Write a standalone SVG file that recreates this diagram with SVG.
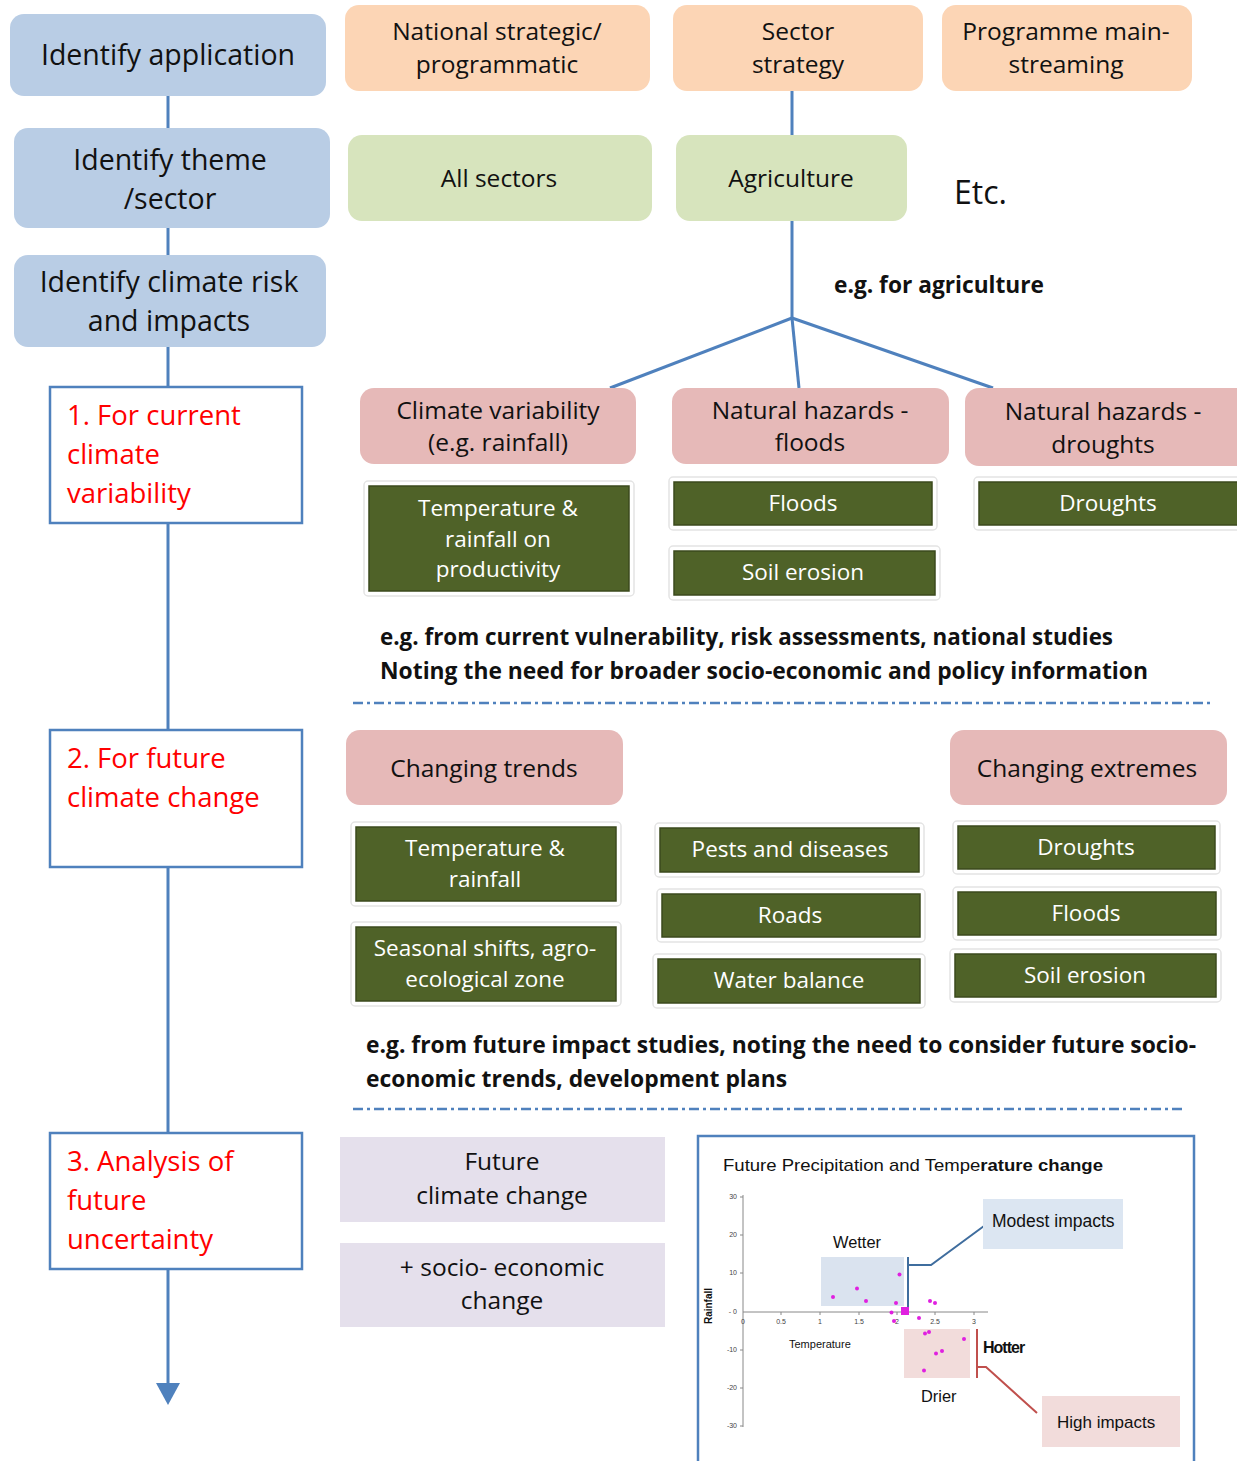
<svg xmlns="http://www.w3.org/2000/svg" width="1237" height="1461" viewBox="0 0 1237 1461">
<style>
text{font-family:"Open Sans","Noto Sans","DejaVu Sans",sans-serif;fill:#111}
.c{text-anchor:middle}
.blue{fill:#b9cde5}
.orange{fill:#fcd5b5}
.lgreen{fill:#d7e4bd}
.pink{fill:#e6b9b8}
.lav{fill:#e5e0ec}
.dg{fill:#4f6228;stroke:#3b4a1c;stroke-width:1.5}
.sh{fill:#fff;stroke:#e4e4e4;stroke-width:1.5}
.wt{fill:#fff;font-size:22.5px}
.t26{font-size:28.5px}
.t22{font-size:24.5px}
.red{fill:#f00;font-size:27.5px}
.step{fill:#fff;stroke:#4f81bd;stroke-width:2.5}
.bold{font-weight:bold;font-size:23px}
.conn{stroke:#4f81bd;stroke-width:3;fill:none}
.dash{stroke:#4f81bd;stroke-width:2.5;fill:none;stroke-dasharray:10 4 3 4}
.ch{font-family:"Liberation Sans",Arial,sans-serif}
.tick{font-family:"Liberation Sans",Arial,sans-serif;font-size:7px;fill:#444}
.dot{fill:#e020e0}
</style>

<g id="connectors">
<line class="conn" x1="168" y1="96" x2="168" y2="128"/>
<line class="conn" x1="168" y1="228" x2="168" y2="255"/>
<line class="conn" x1="168" y1="347" x2="168" y2="387"/>
<line class="conn" x1="168" y1="523" x2="168" y2="730"/>
<line class="conn" x1="168" y1="867" x2="168" y2="1133"/>
<line class="conn" x1="168" y1="1269" x2="168" y2="1385"/>
<polygon points="156,1383 180,1383 168,1405" fill="#4f81bd"/>
<line class="conn" x1="792" y1="91" x2="792" y2="135"/>
<line class="conn" x1="792" y1="221" x2="792" y2="318"/>
<line class="conn" x1="792" y1="318" x2="610" y2="388"/>
<line class="conn" x1="792" y1="318" x2="799" y2="388"/>
<line class="conn" x1="792" y1="318" x2="993" y2="388"/>
</g>

<g id="n-identify-application">
<rect class="blue" x="10" y="14" width="316" height="82" rx="14"/>
<text class="c t26" x="168" y="65">Identify application</text>
</g>
<g id="n-identify-theme">
<rect class="blue" x="14" y="128" width="316" height="100" rx="14"/>
<text class="c t26" x="170" y="170">Identify theme</text>
<text class="c t26" x="170" y="209">/sector</text>
</g>
<g id="n-identify-risk">
<rect class="blue" x="14" y="255" width="312" height="92" rx="14"/>
<text class="c t26" x="169" y="292">Identify climate  risk</text>
<text class="c t26" x="169" y="331">and impacts</text>
</g>

<g id="n-step1">
<rect class="step" x="50" y="387" width="252" height="136"/>
<text class="red" x="67" y="425">1. For current</text>
<text class="red" x="67" y="464">climate</text>
<text class="red" x="67" y="503">variability</text>
</g>
<g id="n-step2">
<rect class="step" x="50" y="730" width="252" height="137"/>
<text class="red" x="67" y="768">2. For future</text>
<text class="red" x="67" y="807">climate change</text>
</g>
<g id="n-step3">
<rect class="step" x="50" y="1133" width="252" height="136"/>
<text class="red" x="67" y="1171">3. Analysis of</text>
<text class="red" x="67" y="1210">future</text>
<text class="red" x="67" y="1249">uncertainty</text>
</g>

<g id="n-national">
<rect class="orange" x="345" y="5" width="305" height="86" rx="14"/>
<text class="c t22" x="497" y="40">National strategic/</text>
<text class="c t22" x="497" y="73">programmatic</text>
</g>
<g id="n-sector">
<rect class="orange" x="673" y="5" width="250" height="86" rx="14"/>
<text class="c t22" x="798" y="40">Sector</text>
<text class="c t22" x="798" y="73">strategy</text>
</g>
<g id="n-programme">
<rect class="orange" x="942" y="5" width="250" height="86" rx="14"/>
<text class="c t22" x="1066" y="40">Programme main-</text>
<text class="c t22" x="1066" y="73">streaming</text>
</g>

<g id="n-all-sectors">
<rect class="lgreen" x="348" y="135" width="304" height="86" rx="14"/>
<text class="c t22" x="499" y="187">All sectors</text>
</g>
<g id="n-agriculture">
<rect class="lgreen" x="676" y="135" width="231" height="86" rx="14"/>
<text class="c t22" x="791" y="187">Agriculture</text>
</g>
<g id="n-etc">
<text x="954" y="204" font-size="32">Etc.</text>
</g>
<g id="n-eg-agri">
<text class="bold" x="834" y="293" textLength="210" lengthAdjust="spacingAndGlyphs">e.g. for agriculture</text>
</g>

<g id="n-climate-var">
<rect class="pink" x="360" y="388" width="276" height="76" rx="14"/>
<text class="c t22" x="498" y="419">Climate variability</text>
<text class="c t22" x="498" y="451">(e.g. rainfall)</text>
</g>
<g id="n-nh-floods">
<rect class="pink" x="672" y="388" width="277" height="76" rx="14"/>
<text class="c t22" x="810" y="419">Natural hazards -</text>
<text class="c t22" x="810" y="451">floods</text>
</g>
<g id="n-nh-droughts">
<rect class="pink" x="965" y="388" width="290" height="78" rx="14"/>
<text class="c t22" x="1103" y="420">Natural hazards -</text>
<text class="c t22" x="1103" y="453">droughts</text>
</g>

<g id="n-temp-prod">
<rect class="sh" x="364" y="481" width="270" height="115" rx="4"/>
<rect class="dg" x="369" y="486" width="260" height="105"/>
<text class="c wt" x="498" y="516">Temperature &amp;</text>
<text class="c wt" x="498" y="547">rainfall on</text>
<text class="c wt" x="498" y="577">productivity</text>
</g>
<g id="n-floods1">
<rect class="sh" x="669" y="477" width="268" height="53" rx="4"/>
<rect class="dg" x="674" y="482" width="258" height="43"/>
<text class="c wt" x="803" y="511">Floods</text>
</g>
<g id="n-soil1">
<rect class="sh" x="669" y="546" width="271" height="54" rx="4"/>
<rect class="dg" x="674" y="551" width="261" height="44"/>
<text class="c wt" x="803" y="580">Soil erosion</text>
</g>
<g id="n-droughts1">
<rect class="sh" x="974" y="477" width="270" height="53" rx="4"/>
<rect class="dg" x="979" y="482" width="262" height="43"/>
<text class="c wt" x="1108" y="511">Droughts</text>
</g>

<g id="n-eg-current">
<text class="bold" x="380" y="645" textLength="733" lengthAdjust="spacingAndGlyphs">e.g. from current vulnerability, risk assessments, national studies</text>
<text class="bold" x="380" y="679" textLength="768" lengthAdjust="spacingAndGlyphs">Noting the need for broader socio-economic and policy information</text>
</g>
<line class="dash" x1="353" y1="703" x2="1210" y2="703"/>

<g id="n-changing-trends">
<rect class="pink" x="346" y="730" width="277" height="75" rx="14"/>
<text class="c t22" x="484" y="777">Changing trends</text>
</g>
<g id="n-changing-extremes">
<rect class="pink" x="950" y="730" width="277" height="75" rx="14"/>
<text class="c t22" x="1087" y="777">Changing extremes</text>
</g>

<g id="n-temp-rain">
<rect class="sh" x="351" y="822" width="270" height="84" rx="4"/>
<rect class="dg" x="356" y="827" width="260" height="74"/>
<text class="c wt" x="485" y="856">Temperature &amp;</text>
<text class="c wt" x="485" y="887">rainfall</text>
</g>
<g id="n-seasonal">
<rect class="sh" x="351" y="922" width="270" height="84" rx="4"/>
<rect class="dg" x="356" y="927" width="260" height="74"/>
<text class="c wt" x="485" y="956">Seasonal shifts, agro-</text>
<text class="c wt" x="485" y="987">ecological  zone</text>
</g>
<g id="n-pests">
<rect class="sh" x="655" y="823" width="269" height="54" rx="4"/>
<rect class="dg" x="660" y="828" width="259" height="44"/>
<text class="c wt" x="790" y="857">Pests and diseases</text>
</g>
<g id="n-roads">
<rect class="sh" x="657" y="889" width="268" height="53" rx="4"/>
<rect class="dg" x="662" y="894" width="258" height="43"/>
<text class="c wt" x="790" y="923">Roads</text>
</g>
<g id="n-water">
<rect class="sh" x="653" y="954" width="272" height="54" rx="4"/>
<rect class="dg" x="658" y="959" width="262" height="44"/>
<text class="c wt" x="789" y="988">Water balance</text>
</g>
<g id="n-droughts2">
<rect class="sh" x="953" y="821" width="267" height="53" rx="4"/>
<rect class="dg" x="958" y="826" width="257" height="43"/>
<text class="c wt" x="1086" y="855">Droughts</text>
</g>
<g id="n-floods2">
<rect class="sh" x="953" y="887" width="268" height="53" rx="4"/>
<rect class="dg" x="958" y="892" width="258" height="43"/>
<text class="c wt" x="1086" y="921">Floods</text>
</g>
<g id="n-soil2">
<rect class="sh" x="950" y="949" width="271" height="53" rx="4"/>
<rect class="dg" x="955" y="954" width="261" height="43"/>
<text class="c wt" x="1085" y="983">Soil erosion</text>
</g>

<g id="n-eg-future">
<text class="bold" x="366" y="1053" textLength="830" lengthAdjust="spacingAndGlyphs">e.g. from future impact studies, noting the need to consider future socio-</text>
<text class="bold" x="366" y="1087" textLength="421" lengthAdjust="spacingAndGlyphs">economic trends, development plans</text>
</g>
<line class="dash" x1="353" y1="1109" x2="1185" y2="1109"/>

<g id="n-future-cc">
<rect class="lav" x="340" y="1137" width="325" height="85"/>
<text class="c" font-size="24.5" x="502" y="1170">Future</text>
<text class="c" font-size="24.5" x="502" y="1204">climate change</text>
</g>
<g id="n-socio">
<rect class="lav" x="340" y="1243" width="325" height="84"/>
<text class="c" font-size="24.5" x="502" y="1276">+ socio- economic</text>
<text class="c" font-size="24.5" x="502" y="1309">change</text>
</g>

<g id="n-chart">
<rect x="698" y="1136" width="496" height="340" fill="#fff" stroke="#4f81bd" stroke-width="2.5"/>
<text class="ch" x="723" y="1171" font-size="17" fill="#222" textLength="380" lengthAdjust="spacingAndGlyphs">Future Precipitation and Tempe<tspan font-weight="bold">rature change</tspan></text>
<rect x="821" y="1257" width="83" height="49" fill="#dae3ef"/>
<rect x="904" y="1329" width="66" height="49" fill="#f2dcdb"/>
<line x1="743" y1="1195" x2="743" y2="1427" stroke="#888" stroke-width="1"/>
<line x1="743" y1="1312" x2="988" y2="1312" stroke="#888" stroke-width="1"/>
<g stroke="#888" stroke-width="1">
<line x1="740" y1="1197" x2="743" y2="1197"/><line x1="740" y1="1235" x2="743" y2="1235"/>
<line x1="740" y1="1273" x2="743" y2="1273"/><line x1="740" y1="1350" x2="743" y2="1350"/>
<line x1="740" y1="1388" x2="743" y2="1388"/><line x1="740" y1="1426" x2="743" y2="1426"/>
<line x1="781" y1="1312" x2="781" y2="1315"/><line x1="820" y1="1312" x2="820" y2="1315"/>
<line x1="859" y1="1312" x2="859" y2="1315"/><line x1="897" y1="1312" x2="897" y2="1315"/>
<line x1="935" y1="1312" x2="935" y2="1315"/><line x1="974" y1="1312" x2="974" y2="1315"/>
</g>
<text class="tick" x="737" y="1199" text-anchor="end">30</text>
<text class="tick" x="737" y="1237" text-anchor="end">20</text>
<text class="tick" x="737" y="1275" text-anchor="end">10</text>
<text class="tick" x="737" y="1314" text-anchor="end">- 0</text>
<text class="tick" x="737" y="1352" text-anchor="end">-10</text>
<text class="tick" x="737" y="1390" text-anchor="end">-20</text>
<text class="tick" x="737" y="1428" text-anchor="end">-30</text>
<text class="tick c" x="743" y="1324">0</text>
<text class="tick c" x="781" y="1324">0.5</text>
<text class="tick c" x="820" y="1324">1</text>
<text class="tick c" x="859" y="1324">1.5</text>
<text class="tick c" x="897" y="1324">2</text>
<text class="tick c" x="935" y="1324">2.5</text>
<text class="tick c" x="974" y="1324">3</text>
<text class="ch" x="789" y="1348" font-size="11" fill="#333">Temperature</text>
<text class="ch" x="0" y="0" font-size="10" font-weight="bold" fill="#333" transform="translate(712,1306) rotate(-90)" text-anchor="middle">Rainfall</text>
<text class="ch" x="833" y="1248" font-size="16.4" fill="#222">Wetter</text>
<text class="ch" x="921" y="1402" font-size="16.4" fill="#222">Drier</text>
<text class="ch" x="983" y="1353" font-size="16" font-weight="bold" fill="#222" letter-spacing="-1">Hotter</text>
<g>
<circle class="dot" cx="833" cy="1297" r="2"/><circle class="dot" cx="857" cy="1288.5" r="2"/>
<circle class="dot" cx="866" cy="1301" r="2"/><circle class="dot" cx="899.5" cy="1274.5" r="2"/>
<circle class="dot" cx="896" cy="1303" r="2"/><circle class="dot" cx="930" cy="1301" r="2"/>
<circle class="dot" cx="935" cy="1303" r="2"/><circle class="dot" cx="891.5" cy="1312.5" r="2"/>
<circle class="dot" cx="894" cy="1321" r="2"/><rect class="dot" x="901" y="1307" width="8" height="8"/>
<circle class="dot" cx="919" cy="1318" r="2"/><circle class="dot" cx="925" cy="1333.5" r="2"/>
<circle class="dot" cx="929" cy="1332" r="2"/><circle class="dot" cx="964" cy="1339" r="2"/>
<circle class="dot" cx="936" cy="1353.5" r="2"/><circle class="dot" cx="942" cy="1351" r="2"/>
<circle class="dot" cx="924" cy="1370.5" r="2"/>
</g>
<polyline points="908,1257 908,1307" stroke="#3f6d9e" stroke-width="2" fill="none"/>
<polyline points="908,1265 931,1265 984,1226" stroke="#3f6d9e" stroke-width="2" fill="none"/>
<polyline points="977,1329 977,1378" stroke="#c0504d" stroke-width="2" fill="none"/>
<polyline points="977,1367 986,1367 1037,1413" stroke="#c0504d" stroke-width="2" fill="none"/>
<rect x="983" y="1199" width="140" height="50" fill="#dce6f2"/>
<text class="ch" x="992" y="1227" font-size="17.5" fill="#222">Modest impacts</text>
<rect x="1042" y="1396" width="138" height="51" fill="#f2dcdb"/>
<text class="ch" x="1057" y="1428" font-size="17" fill="#222">High impacts</text>
</g>
</svg>
